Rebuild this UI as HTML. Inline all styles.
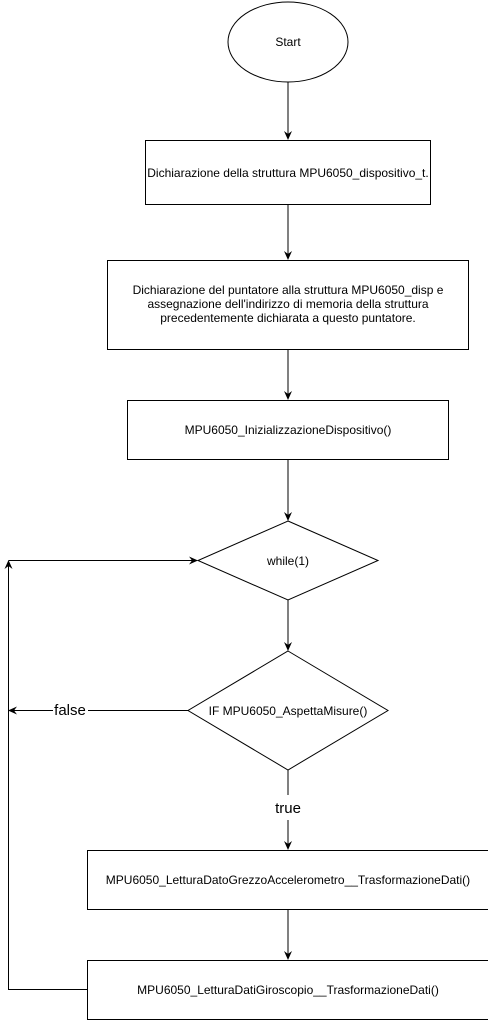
<!DOCTYPE html>
<html><head><meta charset="utf-8"><style>
html,body{margin:0;padding:0;background:#fff;}
svg{display:block;}
text{font-family:"Liberation Sans",Arial,sans-serif;fill:#000;}
</style></head><body>
<svg width="488" height="1021" viewBox="0 0 488 1021" xmlns="http://www.w3.org/2000/svg">
<defs><marker id="a" markerWidth="10" markerHeight="10" refX="8" refY="5" orient="auto" markerUnits="userSpaceOnUse"><path d="M0,1 L9,5 L0,9 L3,5 Z" fill="#000"/></marker></defs>
<g stroke="#000" stroke-width="1" fill="none">
<ellipse cx="288" cy="42" rx="60" ry="40" fill="#fff"/>
<line x1="288" y1="82" x2="288" y2="139" marker-end="url(#a)"/>
<rect x="145.5" y="140.5" width="285" height="64" fill="#fff"/>
<line x1="288" y1="205" x2="288" y2="259" marker-end="url(#a)"/>
<rect x="107.5" y="260.5" width="361" height="89" fill="#fff"/>
<line x1="288" y1="350" x2="288" y2="399" marker-end="url(#a)"/>
<rect x="127.5" y="400.5" width="321" height="59" fill="#fff"/>
<line x1="288" y1="460" x2="288" y2="520" marker-end="url(#a)"/>
<polygon points="288,521 378,560.5 288,600 198,560.5" fill="#fff"/>
<line x1="288" y1="600" x2="288" y2="650" marker-end="url(#a)"/>
<polygon points="288,651 388,710.5 288,770 188,710.5" fill="#fff"/>
<line x1="188" y1="710.5" x2="88" y2="710.5"/>
<line x1="53" y1="710.5" x2="9" y2="710.5" marker-end="url(#a)"/>
<line x1="288" y1="770" x2="288" y2="795"/>
<line x1="288" y1="820" x2="288" y2="849" marker-end="url(#a)"/>
<rect x="87.5" y="850.5" width="401" height="59" fill="#fff"/>
<line x1="288" y1="910" x2="288" y2="959" marker-end="url(#a)"/>
<rect x="87.5" y="960.5" width="401" height="59" fill="#fff"/>
<polyline points="87,989.5 8.5,989.5 8.5,561"/>
<line x1="8.5" y1="568" x2="8.5" y2="561" marker-end="url(#a)"/>
<line x1="8.5" y1="560.5" x2="197" y2="560.5" marker-end="url(#a)"/>
</g>
<g font-size="12" text-anchor="middle">
<text x="288" y="46">Start</text>
<text x="288" y="177">Dichiarazione della struttura MPU6050_dispositivo_t.</text>
<text x="288" y="294">Dichiarazione del puntatore alla struttura MPU6050_disp e</text>
<text x="288" y="308">assegnazione dell'indirizzo di memoria della struttura</text>
<text x="288" y="322">precedentemente dichiarata a questo puntatore.</text>
<text x="288" y="434">MPU6050_InizializzazioneDispositivo()</text>
<text x="288" y="565">while(1)</text>
<text x="288" y="715">IF MPU6050_AspettaMisure()</text>
<text x="288" y="884">MPU6050_LetturaDatoGrezzoAccelerometro__TrasformazioneDati()</text>
<text x="288" y="994">MPU6050_LetturaDatiGiroscopio__TrasformazioneDati()</text>
</g>
<text x="70" y="715" font-size="15" text-anchor="middle">false</text>
<text x="288" y="813" font-size="15" text-anchor="middle">true</text>
</svg>
</body></html>
